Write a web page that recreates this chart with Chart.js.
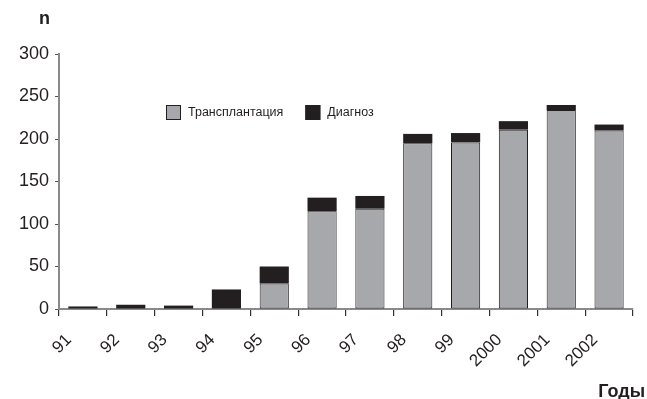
<!DOCTYPE html>
<html lang="ru">
<head>
  <meta charset="UTF-8" />
  <title>Трансплантация и диагноз по годам</title>
  <script src="https://cdn.jsdelivr.net/npm/chart.js"></script>
  <style>
    html, body { margin: 0; padding: 0; background: #fff; }
    #box { width: 647px; height: 399px; }
  </style>
</head>
<body>
  <div id="box"><canvas id="grafico"></canvas></div>

  <script>
    // данные
    const anos = ["91", "92", "93", "94", "95", "96", "97", "98", "99", "2000", "2001", "2002"];
    const transplantacao = [0, 0, 0, 0, 30, 115, 118, 195, 196, 211, 234, 210];
    const diagnoz = [3, 5, 4, 23, 20, 16, 15, 11, 11, 10, 6, 7];
    const yTicks = [0, 50, 100, 150, 200, 250, 300];

    const CINZA = "#a7a8ab";
    const PRETO = "#231f20";
    const FONTE = "'Liberation Sans', Arial, sans-serif";

    // легенда внутри области графика + подписи осей
    const extras = {
      id: "extras",
      afterDraw(chart) {
        const ctx = chart.ctx;
        ctx.save();
        // легенда
        const itens = chart.data.datasets;
        let x = 166;
        const y = 113;
        ctx.font = "12.5px " + FONTE;
        ctx.textBaseline = "middle";
        itens.forEach((ds) => {
          ctx.fillStyle = ds.backgroundColor;
          ctx.fillRect(x, y - 8, 15, 15);
          ctx.strokeStyle = PRETO;
          ctx.lineWidth = 1;
          ctx.strokeRect(x + 0.5, y - 7.5, 14, 14);
          ctx.fillStyle = PRETO;
          ctx.fillText(ds.label, x + 22, y);
          x += 22 + ctx.measureText(ds.label).width + 22;
        });
        // заголовки осей
        ctx.font = "bold 18px " + FONTE;
        ctx.textBaseline = "alphabetic";
        ctx.textAlign = "left";
        ctx.fillText("n", 39, 24);
        ctx.textAlign = "right";
        ctx.fillText("Годы", 645, 397);
        ctx.restore();
      }
    };

    new Chart(document.getElementById("grafico"), {
      type: "bar",
      data: {
        labels: anos,
        datasets: [
          {
            label: "Трансплантация",
            data: transplantacao,
            backgroundColor: CINZA,
            borderColor: PRETO,
            borderWidth: (c) => (c.raw > 0 ? 1 : 0),
            borderSkipped: false
          },
          {
            label: "Диагноз",
            data: diagnoz,
            backgroundColor: PRETO,
            borderColor: PRETO,
            borderWidth: 0
          }
        ]
      },
      options: {
        responsive: true,
        maintainAspectRatio: false,
        animation: false,
        layout: { padding: { top: 54, right: 14, left: 0, bottom: 0 } },
        plugins: {
          legend: { display: false },
          tooltip: { enabled: false }
        },
        datasets: {
          bar: { categoryPercentage: 1, barPercentage: 0.61 }
        },
        scales: {
          x: {
            stacked: true,
            grid: {
              offset: true,
              drawOnChartArea: false,
              drawTicks: true,
              tickLength: 7,
              color: "#333",
              lineWidth: 1.2
            },
            border: { color: "#8a8a8a", width: 2 },
            ticks: {
              color: PRETO,
              font: { family: FONTE, size: 17 },
              maxRotation: 45,
              minRotation: 45,
              labelOffset: -14,
              padding: 14
            },
            afterFit(scale) { scale.height = 90; }
          },
          y: {
            stacked: true,
            min: 0,
            max: 300,
            afterBuildTicks(scale) {
              scale.ticks = yTicks.map((v) => ({ value: v }));
            },
            grid: {
              drawOnChartArea: false,
              drawTicks: true,
              tickLength: 4,
              color: "#555",
              lineWidth: 1
            },
            border: { color: "#8a8a8a", width: 2 },
            ticks: {
              color: PRETO,
              font: { family: FONTE, size: 18 },
              padding: 6
            },
            afterFit(scale) { scale.width = 59; }
          }
        }
      },
      plugins: [extras]
    });
  </script>
</body>
</html>
